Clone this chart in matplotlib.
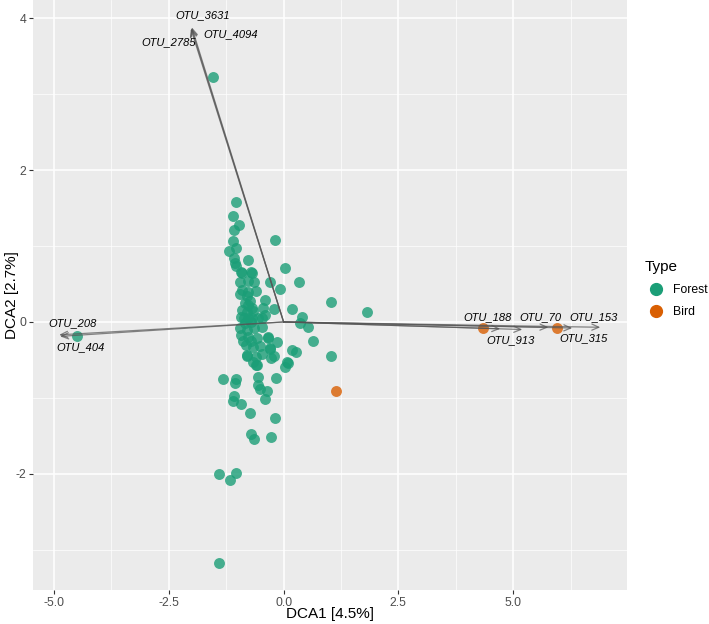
import numpy as np
import matplotlib
matplotlib.use("Agg")
import matplotlib.pyplot as plt
from matplotlib.lines import Line2D

plt.rcParams['font.family'] = ['Liberation Sans', 'DejaVu Sans']
plt.rcParams['axes.unicode_minus'] = False

# site scores (DCA1, DCA2)
forest_x = [-1.03, -1.11, -0.98, -1.09, -1.11, -1.20, -1.03, -1.09, -1.05, -0.77, -0.18, 0.04,
            0.34, -0.29, -0.07, -0.90, -0.68, 1.04, 1.82, 0.19, -0.22, -0.40, 0.41, 0.36, 0.54,
            0.65, 1.04, -0.33, -0.14, -0.29, -0.20, 0.19, 0.26, 0.08, 0.10, 0.04, -0.79, -0.66,
            -0.59, -0.55, -0.16, -1.33, -1.03,
            -1.05, -0.55, -0.51, -0.37, -0.40, -1.07, -1.11, -0.92, -0.74, -0.18, -0.72, -0.64,
            -0.27, -1.40, -1.03, -1.16, -1.40, -1.53, -4.49,
            -1.03, -0.92, -0.70, -0.77, -0.64, -0.96, -0.90, -0.77, -0.61, -0.94, -0.79, -0.77,
            -0.68, -0.90, -0.79, -0.66, -0.44, -0.40, -0.92, -0.77, -0.55,
            -0.87, -0.68, -0.46, -0.94, -0.79, -0.64, -0.46, -0.92, -0.77, -0.57, -0.33, -0.83,
            -0.66, -0.51, -0.79, -0.61, -0.46, -0.29, -0.61, -0.27,
            -0.84, -0.74, -0.84, -0.72, -0.89, -0.72]
forest_y = [1.58, 1.39, 1.28, 1.21, 1.07, 0.93, 0.97, 0.84, 0.78, 0.82, 1.08, 0.71,
            0.53, 0.53, 0.43, 0.64, 0.64, 0.26, 0.13, 0.17, 0.17, 0.29, 0.07, -0.01, -0.06,
            -0.25, -0.45, -0.20, -0.26, -0.36, -0.45, -0.37, -0.39, -0.53, -0.54, -0.59, -0.45, -0.53,
            -0.57, -0.72, -0.74, -0.75, -0.75,
            -0.80, -0.83, -0.88, -0.91, -1.01, -0.97, -1.04, -1.08, -1.20, -1.26, -1.47, -1.54,
            -1.51, -2.00, -1.99, -2.08, -3.17, 3.22, -0.18,
            0.74, 0.66, 0.66, 0.54, 0.53, 0.53, 0.42, 0.39, 0.41, 0.37, 0.34, 0.22,
            0.18, 0.16, 0.13, 0.14, 0.18, 0.09, 0.07, 0.05, 0.05,
            0.05, 0.05, 0.05, -0.08, -0.11, -0.08, -0.07, -0.17, -0.20, -0.21, -0.21, -0.30,
            -0.33, -0.32, -0.43, -0.46, -0.42, -0.34, -0.57, -0.47,
            0.25, 0.28, -0.02, 0.00, -0.25, -0.25]
bird_x = [4.35, 5.96, 1.15]
bird_y = [-0.08, -0.08, -0.91]

# species arrows
otu_names = ["OTU_3631", "OTU_2785", "OTU_4094", "OTU_208", "OTU_404",
             "OTU_188", "OTU_913", "OTU_70", "OTU_315", "OTU_153"]
arrow_x = [-2.01, -2.02, -2.00, -4.89, -4.87, 4.72, 5.20, 5.77, 6.29, 6.90]
arrow_y = [3.87, 3.86, 3.88, -0.17, -0.19, -0.09, -0.10, -0.07, -0.08, -0.07]
label_x = [-1.77, -2.51, -1.16, -4.60, -4.43, 4.44, 4.94, 5.59, 6.53, 6.75]
label_y = [4.04, 3.68, 3.79, -0.01, -0.33, 0.07, -0.24, 0.07, -0.21, 0.07]

fig = plt.figure(figsize=(7.09, 6.24), dpi=100)
ax = fig.add_axes([0.0465, 0.0545, 0.8378, 0.9455])
ax.set_facecolor('#EBEBEB')
for s in ax.spines.values():
    s.set_visible(False)

ax.set_xlim(-5.46, 7.48)
ax.set_ylim(-3.53, 4.24)
ax.set_xticks([-5, -2.5, 0, 2.5, 5])
ax.set_xticklabels(["-5.0", "-2.5", "0.0", "2.5", "5.0"])
ax.set_yticks([-2, 0, 2, 4])
ax.set_xticks([-3.75, -1.25, 1.25, 3.75, 6.25], minor=True)
ax.set_yticks([-3, -1, 1, 3], minor=True)
ax.grid(which='major', color='white', lw=1.1)
ax.grid(which='minor', color='white', lw=0.5)
ax.set_axisbelow(True)
ax.tick_params(which='major', length=3, color='#333333', labelcolor='#4D4D4D',
               labelsize=8.8, pad=2)
ax.tick_params(which='minor', length=0)

ax.scatter(forest_x, forest_y, s=62, color='#1B9E77', alpha=0.8, lw=0, zorder=3)
ax.scatter(bird_x, bird_y, s=62, color='#D95F02', alpha=0.8, lw=0, zorder=3)

for i, name in enumerate(otu_names):
    ax.annotate("", xy=(arrow_x[i], arrow_y[i]), xytext=(0, 0),
                arrowprops=dict(arrowstyle='->,head_length=0.5,head_width=0.22',
                                color='#555555', lw=0.9, alpha=0.7,
                                shrinkA=0, shrinkB=0), zorder=4)
    ax.text(label_x[i], label_y[i], name, fontsize=8, style='italic',
            ha='center', va='center', color='black', zorder=5)

ax.set_xlabel("DCA1 [4.5%]", fontsize=11)
ax.set_ylabel("DCA2 [2.7%]", fontsize=11, va='center')
ax.xaxis.set_label_coords(0.5, -0.028)
ax.yaxis.set_label_coords(-0.036, 0.5)

handles = [Line2D([], [], marker='o', ls='', color='#1B9E77', markersize=8.5),
           Line2D([], [], marker='o', ls='', color='#D95F02', markersize=8.5)]
leg = ax.legend(handles, ["Forest", "Bird"], title="Type", loc='center left',
                bbox_to_anchor=(1.012, 0.51), frameon=False, fontsize=8.8,
                title_fontsize=11, handlelength=1.8, handletextpad=0.5,
                labelspacing=0.85)
leg._legend_box.align = "left"

fig.savefig("out.png", dpi=100)
